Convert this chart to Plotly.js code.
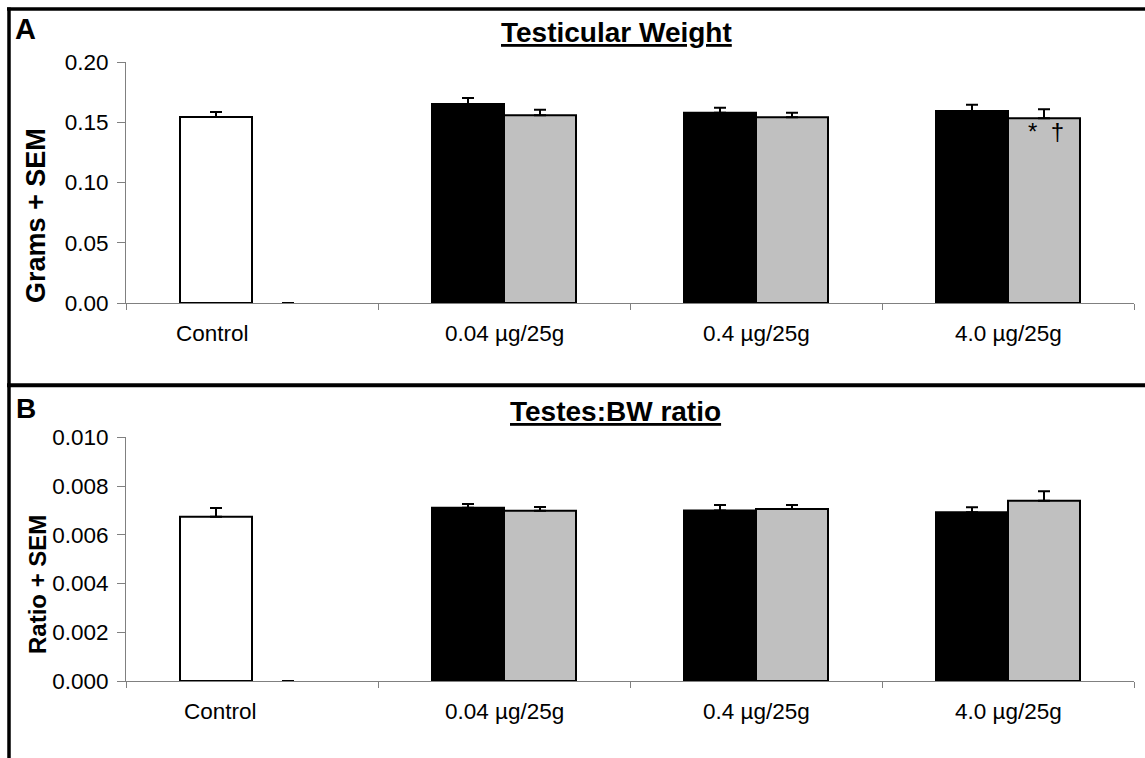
<!DOCTYPE html>
<html>
<head>
<meta charset="utf-8">
<script src="https://cdn.plot.ly/plotly-3.0.1.min.js"></script>
<style>html,body{margin:0;padding:0;background:#fff;}#chart{width:1145px;height:758px;}</style>
</head>
<body>
<div id="chart"></div>
<script>
// ---- data ----
const categories = ['Control', '0.04 µg/25g', '0.4 µg/25g', '4.0 µg/25g'];

// Panel A: Testicular weight (grams), first series (control + black bars)
const weightDark = [0.1544, 0.1651, 0.1579, 0.1593];
const weightDarkSem = [0.0041, 0.0050, 0.0041, 0.0052];
// second series (gray bars)
const weightGray = [0, 0.1558, 0.1541, 0.1533];
const weightGraySem = [0, 0.0046, 0.0038, 0.0075];

// Panel B: Testes:BW ratio
const ratioDark = [0.00674, 0.00711, 0.00700, 0.00692];
const ratioDarkSem = [0.00036, 0.00015, 0.00022, 0.00021];
const ratioGray = [0, 0.00699, 0.00706, 0.00740];
const ratioGraySem = [0, 0.00015, 0.00016, 0.00039];

const yTicksA = [0, 0.05, 0.10, 0.15, 0.20];
const yTicksB = [0, 0.002, 0.004, 0.006, 0.008, 0.010];

// ---- styling ----
const W = 1145, H = 758;
const FONT = 'Liberation Sans, Arial, sans-serif';
const darkColors = ['#ffffff', '#000000', '#000000', '#000000'];
const grayColor = '#c0c0c0';
const axisGray = '#808080';
const zeros = categories.map(() => 0);

function barTrace(y, sem, color, xa, ya) {
  return {
    type: 'bar', x: categories, y: y, xaxis: xa, yaxis: ya,
    marker: {color: color, line: {color: '#000', width: y.map(v => v === 0 ? 0 : 2)}},
    error_y: {type: 'data', symmetric: false, array: sem, arrayminus: zeros,
              color: '#000', thickness: 2, width: 6},
    hoverinfo: 'none', showlegend: false
  };
}

const data = [
  barTrace(weightDark, weightDarkSem, darkColors, 'x', 'y'),
  barTrace(weightGray, weightGraySem, grayColor, 'x', 'y'),
  barTrace(ratioDark, ratioDarkSem, darkColors, 'x2', 'y2'),
  barTrace(ratioGray, ratioGraySem, grayColor, 'x2', 'y2')
];

const px = v => v / W;
const py = v => 1 - v / H;

function xAxis(anchor) {
  return {
    domain: [px(126), px(1134)], anchor: anchor, type: 'category',
    tickson: 'boundaries', ticks: 'outside', ticklen: 6, tickwidth: 1, tickcolor: axisGray,
    showline: true, linecolor: axisGray, linewidth: 1,
    showticklabels: false, showgrid: false, zeroline: false, fixedrange: true
  };
}
function yAxis(anchor, domain, range, ticks, fmt) {
  return {
    domain: domain, anchor: anchor, range: range, tickvals: ticks, tickformat: fmt,
    ticks: 'outside', ticklen: 8, tickwidth: 1, tickcolor: axisGray, ticklabelstandoff: 4,
    showline: true, linecolor: axisGray, linewidth: 1,
    showgrid: false, zeroline: false, fixedrange: true,
    tickfont: {family: FONT, size: 22.5, color: '#000'}
  };
}

const labelShifts = {x: [-40, 0, 0, 0], x2: [-32, 0, 0, 0]};
const annotations = [];
['x', 'x2'].forEach((xa, k) => {
  const ya = k === 0 ? 'y' : 'y2';
  categories.forEach((c, i) => {
    annotations.push({xref: xa, yref: ya, x: c, y: 0, yanchor: 'middle', xanchor: 'center',
      yshift: -30, xshift: labelShifts[xa][i], text: c, showarrow: false,
      font: {family: FONT, size: 22.5, color: '#000'}});
  });
});
// panel letters, titles, axis titles
annotations.push(
  {xref: 'paper', yref: 'paper', x: px(25.5), y: py(29), text: '<b>A</b>', showarrow: false,
   xanchor: 'center', yanchor: 'middle', font: {family: FONT, size: 29, color: '#000'}},
  {xref: 'paper', yref: 'paper', x: px(25.5), y: py(408), text: '<b>B</b>', showarrow: false,
   xanchor: 'center', yanchor: 'middle', font: {family: FONT, size: 28, color: '#000'}},
  {xref: 'paper', yref: 'paper', x: px(616), y: py(32), text: '<b><u>Testicular Weight</u></b>', showarrow: false,
   xanchor: 'center', yanchor: 'middle', font: {family: FONT, size: 28, color: '#000'}},
  {xref: 'paper', yref: 'paper', x: px(615.5), y: py(411), text: '<b><u>Testes:BW ratio</u></b>', showarrow: false,
   xanchor: 'center', yanchor: 'middle', font: {family: FONT, size: 28, color: '#000'}},
  {xref: 'paper', yref: 'paper', x: px(36), y: py(216), text: '<b>Grams + SEM</b>', showarrow: false,
   textangle: -90, xanchor: 'center', yanchor: 'middle', font: {family: FONT, size: 27, color: '#000'}},
  {xref: 'paper', yref: 'paper', x: px(37), y: py(585), text: '<b>Ratio + SEM</b>', showarrow: false,
   textangle: -90, xanchor: 'center', yanchor: 'middle', font: {family: FONT, size: 24, color: '#000'}},
  {xref: 'x', yref: 'y', x: categories[3], y: weightGray[3], xshift: 2 + 36, yshift: -13,
   text: '*  †', showarrow: false, xanchor: 'center', yanchor: 'middle',
   font: {family: FONT, size: 24, color: '#000'}}
);

const shapes = [
  {type: 'line', xref: 'paper', yref: 'paper', x0: px(7), x1: 1, y0: py(9), y1: py(9), line: {color: '#000', width: 3.5}},
  {type: 'line', xref: 'paper', yref: 'paper', x0: px(9), x1: px(9), y0: py(7.5), y1: 0, line: {color: '#000', width: 3.5}},
  {type: 'line', xref: 'paper', yref: 'paper', x0: px(7), x1: 1, y0: py(385.3), y1: py(385.3), line: {color: '#000', width: 4}}
];

const layout = {
  width: W, height: H, margin: {l: 0, r: 0, t: 0, b: 0},
  paper_bgcolor: '#fff', plot_bgcolor: 'rgba(0,0,0,0)',
  barmode: 'group', bargap: 108 / 252, bargroupgap: 0,
  showlegend: false,
  xaxis: xAxis('y'),
  yaxis: yAxis('x', [py(303), py(62)], [0, 0.2], yTicksA, '.2f'),
  xaxis2: xAxis('y2'),
  yaxis2: yAxis('x2', [py(681), py(437.3)], [0, 0.01], yTicksB, '.3f'),
  annotations: annotations,
  shapes: shapes,
  font: {family: FONT, color: '#000'}
};

Plotly.newPlot('chart', data, layout, {staticPlot: true, displayModeBar: false});
</script>
</body>
</html>
